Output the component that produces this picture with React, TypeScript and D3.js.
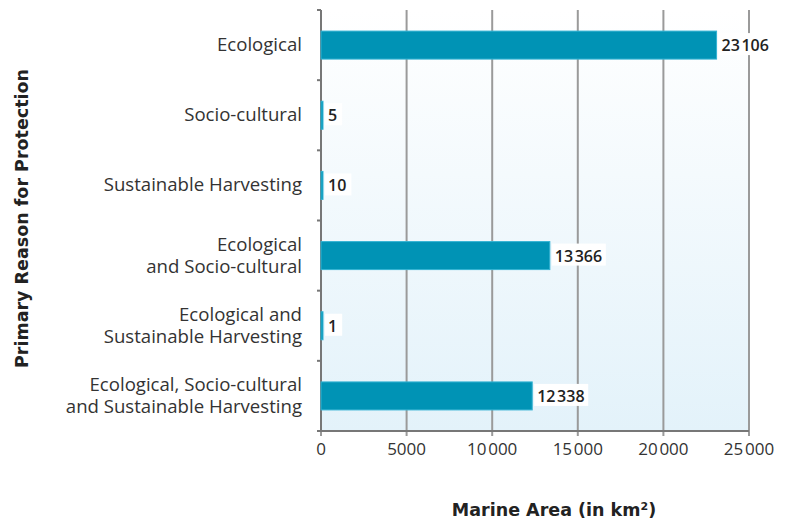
import React from 'react';
import * as d3 from 'd3';

const categories = [
  ['Ecological'],
  ['Socio-cultural'],
  ['Sustainable Harvesting'],
  ['Ecological', 'and Socio-cultural'],
  ['Ecological and', 'Sustainable Harvesting'],
  ['Ecological, Socio-cultural', 'and Sustainable Harvesting'],
];
const values = [23106, 5, 10, 13366, 1, 12338];
const xTicks = [0, 5000, 10000, 15000, 20000, 25000];

const W = 796;
const H = 521;
const left = 321;
const right = 749;
const top = 10;
const bottom = 431;

// thousands separated by a hair space, only from 10 000 up
const fmt = (v: number) => (v >= 10000 ? d3.format(',')(v).replace(',', '\u200a') : String(v));

export default function App() {
  const x = d3.scaleLinear().domain([0, 25000]).range([left, right]);
  const y = d3.scaleBand<number>().domain(d3.range(values.length)).range([top, bottom]);
  const barH = 28;
  const lineH = 22;
  const font = "'Open Sans', 'Noto Sans', sans-serif";
  const titleFont = "'DejaVu Sans', sans-serif";

  return (
    <svg width={W} height={H} style={{ position: 'absolute', left: 0, top: 0 }}>
      <defs>
        <linearGradient id="bg" x1="0" y1="0" x2="0" y2="1">
          <stop offset="0" stopColor="#ffffff" />
          <stop offset="1" stopColor="#e3f2fa" />
        </linearGradient>
      </defs>
      <rect x={left} y={top} width={right - left} height={bottom - top} fill="url(#bg)" />
      {xTicks.map(t => (
        <g key={t}>
          <line x1={x(t)} x2={x(t)} y1={top} y2={bottom + 5} stroke="#9a9a9a" strokeWidth={2} />
          <text x={x(t)} y={bottom + 24} textAnchor="middle" fontFamily={font} fontSize={17} fill="#333">
            {fmt(t)}
          </text>
        </g>
      ))}
      <line x1={left} x2={right} y1={bottom} y2={bottom} stroke="#777" strokeWidth={2} />
      <line x1={left} x2={left} y1={top} y2={bottom} stroke="#777" strokeWidth={2} />
      {d3.range(values.length + 1).map(i => {
        const yy = i < values.length ? (y(i) as number) : bottom;
        return <line key={i} x1={left - 4} x2={left} y1={yy} y2={yy} stroke="#777" strokeWidth={2} />;
      })}
      {values.map((v, i) => {
        const cy = (y(i) as number) + y.bandwidth() / 2;
        const w = Math.max(x(v) - left, 2);
        const label = fmt(v);
        const lw = String(v).length * 9.2 + 8;
        const lines = categories[i];
        const y0 = cy + 6 - ((lines.length - 1) / 2) * lineH;
        return (
          <g key={i}>
            <rect x={left} y={cy - barH / 2} width={w} height={barH} fill="#0093b5" stroke="#33b3d3" strokeWidth={1} />
            <rect x={left + w + 2} y={cy - 12} width={lw} height={22} fill="#ffffff" />
            <text x={left + w + 5} y={cy + 6} fontFamily={font} fontSize={16} fontWeight={600} fill="#222">
              {label}
            </text>
            <text x={302} y={y0} textAnchor="end" fontFamily={font} fontSize={18.6} fill="#333">
              {lines.map((l, j) => (
                <tspan key={j} x={302} dy={j === 0 ? 0 : lineH}>
                  {l}
                </tspan>
              ))}
            </text>
          </g>
        );
      })}
      <text
        transform={`translate(28,${(top + bottom) / 2 - 2}) rotate(-90)`}
        textAnchor="middle"
        fontFamily={titleFont}
        fontWeight={700}
        fontSize={17.5}
        fill="#222"
      >
        Primary Reason for Protection
      </text>
      <text x={554} y={516} textAnchor="middle" fontFamily={titleFont} fontWeight={700} fontSize={17.5} fill="#222">
        Marine Area (in km<tspan fontSize={11} dy={-6}>2</tspan>
        <tspan dy={6}>)</tspan>
      </text>
    </svg>
  );
}
